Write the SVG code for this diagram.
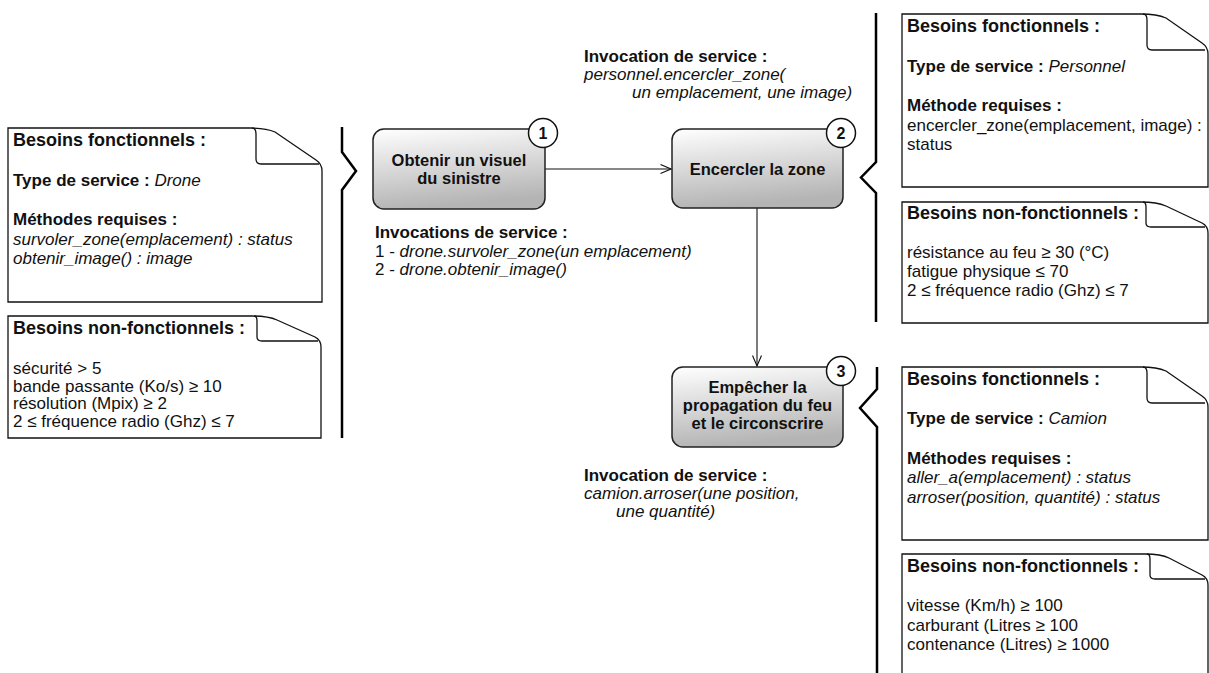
<svg xmlns="http://www.w3.org/2000/svg" width="1209" height="673" viewBox="0 0 1209 673">
<style>
text{font-family:"Liberation Sans",Arial,Helvetica,sans-serif;fill:#111;}
.t{font-size:17px;}
.h{font-size:18px;font-weight:bold;}
.b{font-weight:bold;}
.i{font-style:italic;}
.note{fill:#fff;stroke:#111;stroke-width:1.3;}
.fold{fill:none;stroke:#111;stroke-width:1.3;}
.brace{fill:none;stroke:#000;stroke-width:2.5;stroke-linejoin:miter;}
.node{fill:url(#g);stroke:#222;stroke-width:1.5;}
.nt{font-size:16.5px;font-weight:bold;text-anchor:middle;}
.badge{fill:#fff;stroke:#111;stroke-width:1.5;}
.bt{font-size:16px;font-weight:bold;text-anchor:middle;}
.conn{fill:none;stroke:#111;stroke-width:1.1;}
</style>
<defs>
<linearGradient id="g" x1="0" y1="0" x2="0.2" y2="1">
<stop offset="0" stop-color="#ffffff"/>
<stop offset="1" stop-color="#b4b4b4"/>
</linearGradient>
<marker id="arr" viewBox="0 0 12 10" refX="11.5" refY="5" markerWidth="12" markerHeight="10" markerUnits="userSpaceOnUse" orient="auto">
<path d="M1,0.5 L11.5,5 L1,9.5" fill="none" stroke="#111" stroke-width="1.1"/>
</marker>
</defs>

<g id="connectors">
<line class="conn" x1="545" y1="169" x2="671" y2="169" marker-end="url(#arr)"/>
<line class="conn" x1="757" y1="208" x2="757" y2="366" marker-end="url(#arr)"/>
</g>

<g id="braces">
<path class="brace" d="M342,127 V152 L356,171 L342,190 V438"/>
<path class="brace" d="M876,13 V162 L861,177.5 L876,193 V322"/>
<path class="brace" d="M877,367 V389 L860,408 L877,427 V680"/>
</g>

<g id="note-drone-fn">
<path class="note" d="M8,128 H250 Q266,128 275,132 L316,160 Q322,164 322,171 V302 H8 Z"/>
<path class="fold" d="M252,128 Q256,128 256,134 V159 Q256,164 261,164 H319"/>
<text class="h" x="13" y="146">Besoins fonctionnels :</text>
<text class="t" x="13" y="185.5"><tspan class="b">Type de service : </tspan><tspan class="i">Drone</tspan></text>
<text class="t b" x="13" y="225">Méthodes requises :</text>
<text class="t i" x="13" y="244.5">survoler_zone(emplacement) : status</text>
<text class="t i" x="13" y="264">obtenir_image() : image</text>
</g>

<g id="note-drone-nfn">
<path class="note" d="M8,316 H252 Q268,316 277,320 L315,337 Q321,340 321,347 V438 H8 Z"/>
<path class="fold" d="M254,316 Q257,316 257,321 V337 Q257,341 262,341 H318"/>
<text class="h" x="13" y="334">Besoins non-fonctionnels :</text>
<text class="t" x="13" y="374">sécurité &gt; 5</text>
<text class="t" x="13" y="391.5">bande passante (Ko/s) ≥ 10</text>
<text class="t" x="13" y="409">résolution (Mpix) ≥ 2</text>
<text class="t" x="13" y="426.5">2 ≤ fréquence radio (Ghz) ≤ 7</text>
</g>

<g id="node-1">
<rect class="node" x="373" y="129" width="172" height="80" rx="11"/>
<text class="nt" x="459" y="166">Obtenir un visuel</text>
<text class="nt" x="459" y="184">du sinistre</text>
<circle class="badge" cx="543" cy="133" r="14.5"/>
<text class="bt" x="543" y="139">1</text>
</g>

<g id="inv-1">
<text class="t b" x="375" y="238">Invocations de service :</text>
<text class="t" x="375" y="256.5">1 - <tspan class="i">drone.survoler_zone(un emplacement)</tspan></text>
<text class="t" x="375" y="275">2 - <tspan class="i">drone.obtenir_image()</tspan></text>
</g>

<g id="node-2">
<rect class="node" x="672" y="129" width="171" height="79" rx="11"/>
<text class="nt" x="757.5" y="175">Encercler la zone</text>
<circle class="badge" cx="841" cy="133" r="14.5"/>
<text class="bt" x="841" y="139">2</text>
</g>

<g id="inv-2">
<text class="t b" x="584" y="62">Invocation de service :</text>
<text class="t i" x="584" y="80">personnel.encercler_zone(</text>
<text class="t i" x="632" y="98">un emplacement, une image)</text>
</g>

<g id="note-personnel-fn">
<path class="note" d="M902,14 H1141 Q1157,14 1166,18 L1202,43 Q1208,47 1208,54 V187 H902 Z"/>
<path class="fold" d="M1143,14 Q1147,14 1147,20 V45 Q1147,50 1152,50 H1205"/>
<text class="h" x="907" y="32">Besoins fonctionnels :</text>
<text class="t" x="907" y="71.5"><tspan class="b">Type de service : </tspan><tspan class="i">Personnel</tspan></text>
<text class="t b" x="907" y="111">Méthode requises :</text>
<text class="t" x="907" y="130.5">encercler_zone(emplacement, image) :</text>
<text class="t" x="907" y="150">status</text>
</g>

<g id="note-personnel-nfn">
<path class="note" d="M902,202 H1141 Q1157,202 1166,206 L1202,223 Q1208,226 1208,233 V323 H902 Z"/>
<path class="fold" d="M1143,202 Q1146,202 1146,207 V223 Q1146,227 1151,227 H1205"/>
<text class="h" x="907" y="219">Besoins non-fonctionnels :</text>
<text class="t" x="907" y="257.5">résistance au feu ≥ 30 (°C)</text>
<text class="t" x="907" y="276.5">fatigue physique ≤ 70</text>
<text class="t" x="907" y="295.5">2 ≤ fréquence radio (Ghz) ≤ 7</text>
</g>

<g id="node-3">
<rect class="node" x="672" y="367" width="171" height="80" rx="11"/>
<text class="nt" x="757.5" y="392.5">Empêcher la</text>
<text class="nt" x="757.5" y="410.5">propagation du feu</text>
<text class="nt" x="757.5" y="428.5">et le circonscrire</text>
<circle class="badge" cx="841" cy="371" r="14.5"/>
<text class="bt" x="841" y="377">3</text>
</g>

<g id="inv-3">
<text class="t b" x="584" y="481">Invocation de service :</text>
<text class="t i" x="584" y="499">camion.arroser(une position,</text>
<text class="t i" x="616" y="517">une quantité)</text>
</g>

<g id="note-camion-fn">
<path class="note" d="M902,367 H1141 Q1157,367 1166,371 L1202,396 Q1208,400 1208,407 V540 H902 Z"/>
<path class="fold" d="M1143,367 Q1147,367 1147,373 V398 Q1147,403 1152,403 H1205"/>
<text class="h" x="907" y="385">Besoins fonctionnels :</text>
<text class="t" x="907" y="424"><tspan class="b">Type de service : </tspan><tspan class="i">Camion</tspan></text>
<text class="t b" x="907" y="463.5">Méthodes requises :</text>
<text class="t i" x="907" y="483">aller_a(emplacement) : status</text>
<text class="t i" x="907" y="502.5">arroser(position, quantité) : status</text>
</g>

<g id="note-camion-nfn">
<path class="note" d="M902,554 H1145 Q1161,554 1169,558 L1202,575 Q1208,578 1208,585 V690 H902 Z"/>
<path class="fold" d="M1147,554 Q1150,554 1150,559 V575 Q1150,579 1155,579 H1205"/>
<text class="h" x="907" y="572">Besoins non-fonctionnels :</text>
<text class="t" x="907" y="611">vitesse (Km/h) ≥ 100</text>
<text class="t" x="907" y="630.5">carburant (Litres ≥ 100</text>
<text class="t" x="907" y="650">contenance (Litres) ≥ 1000</text>
</g>
</svg>
